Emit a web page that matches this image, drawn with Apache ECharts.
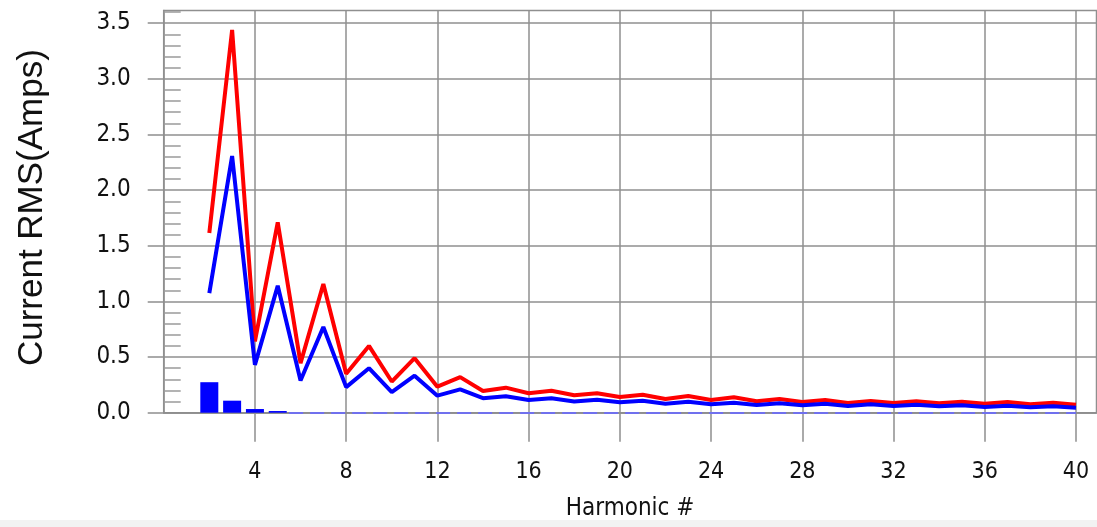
<!DOCTYPE html>
<html>
<head>
<meta charset="utf-8">
<style>
  html, body { margin: 0; padding: 0; background: #fff; }
  #chart { width: 1097px; height: 527px; }
</style>
<script src="https://cdn.jsdelivr.net/npm/echarts@6/dist/echarts.min.js"></script>
</head>
<body>
<div id="chart"></div>
<script>
// Harmonic orders 2..40
const harmonics = [];
for (let h = 2; h <= 40; h++) harmonics.push(h);

// RMS current per harmonic (A)
const redValues = [1.615, 3.44, 0.64, 1.71, 0.445, 1.157, 0.35, 0.60, 0.28, 0.49,
  0.234, 0.32, 0.195, 0.225, 0.175, 0.198, 0.157, 0.175, 0.141, 0.162,
  0.123, 0.15, 0.114, 0.139, 0.103, 0.123, 0.096, 0.114, 0.087, 0.106,
  0.087, 0.103, 0.084, 0.099, 0.081, 0.096, 0.075, 0.09, 0.072];
const blueValues = [1.075, 2.306, 0.43, 1.14, 0.29, 0.77, 0.23, 0.40, 0.184, 0.333,
  0.153, 0.21, 0.13, 0.148, 0.114, 0.13, 0.10, 0.117, 0.094, 0.108,
  0.081, 0.099, 0.076, 0.09, 0.069, 0.084, 0.066, 0.081, 0.06, 0.075,
  0.06, 0.072, 0.057, 0.066, 0.051, 0.063, 0.048, 0.057, 0.045];
const barValues = [0.274, 0.108, 0.033, 0.015, 0, 0, 0, 0, 0, 0,
  0, 0, 0, 0, 0, 0, 0, 0, 0, 0,
  0, 0, 0, 0, 0, 0, 0, 0, 0, 0,
  0, 0, 0, 0, 0, 0, 0, 0, 0];

// Axis tick labels
const xTicks = [4, 8, 12, 16, 20, 24, 28, 32, 36, 40];
const yTicks = [0, 0.5, 1.0, 1.5, 2.0, 2.5, 3.0, 3.5];

const pairs = vals => harmonics.map((h, i) => [h, vals[i]]);

const gridGray = '#8f8f8f';
const tickFont = '"Liberation Sans Narrow", "DejaVu Sans Condensed", "Liberation Sans", sans-serif';

const chart = echarts.init(document.getElementById('chart'), null, { renderer: 'canvas' });

chart.setOption({
  backgroundColor: '#ffffff',
  animation: false,
  grid: {
    left: 163.7, top: 10.5, right: 0.5, bottom: 114.3,
    show: true, borderColor: gridGray, borderWidth: 1.5, backgroundColor: 'transparent'
  },
  xAxis: {
    type: 'value',
    min: 0, max: 40.9, interval: 4,
    name: 'Harmonic #',
    nameLocation: 'middle',
    nameGap: 84,
    nameTextStyle: { fontFamily: tickFont, fontSize: 24, color: '#111', verticalAlign: 'top' },
    axisLine: { show: true, lineStyle: { color: gridGray, width: 1.5 } },
    axisTick: { show: true, customValues: xTicks, length: 29, lineStyle: { color: gridGray, width: 1.5 } },
    axisLabel: {
      customValues: xTicks, margin: 48,
      fontFamily: tickFont, fontSize: 23, color: '#111'
    },
    splitLine: { show: true, lineStyle: { color: gridGray, width: 1.5 } }
  },
  yAxis: {
    type: 'value',
    min: 0, max: 3.614, interval: 0.5,
    name: 'Current RMS(Amps)',
    nameLocation: 'middle',
    nameGap: 114,
    nameRotate: 90,
    nameTextStyle: {
      fontFamily: '"Liberation Sans", Arial, sans-serif', fontSize: 35, color: '#111',
      padding: [0, 0, 0, 8]
    },
    axisLine: { show: true, lineStyle: { color: gridGray, width: 1.5 } },
    axisTick: { show: true, length: 16, customValues: yTicks, lineStyle: { color: gridGray, width: 1.5 } },
    minorTick: { show: true, splitNumber: 5, length: -17, lineStyle: { color: '#9a9a9a', width: 1.5 } },
    axisLabel: {
      customValues: yTicks, margin: 33,
      formatter: v => v.toFixed(1),
      fontFamily: tickFont, fontSize: 24, color: '#111'
    },
    splitLine: { show: true, lineStyle: { color: gridGray, width: 1.5 } }
  },
  graphic: [{
    type: 'rect', z: -1,
    shape: { x: 0, y: 520, width: 1097, height: 7 },
    style: { fill: '#f2f2f2' }
  }],
  series: [
    {
      name: 'Level',
      type: 'bar',
      data: pairs(barValues),
      barWidth: 18,
      itemStyle: { color: '#0000ff' },
      z: 3,
      markLine: {
        silent: true,
        symbol: 'none',
        label: { show: false },
        lineStyle: { color: '#7070ee', width: 2, type: [14, 7] },
        data: [[{ coord: [5.5, 0] }, { coord: [harmonics[harmonics.length - 1], 0] }]]
      }
    },
    {
      name: 'Max',
      type: 'line',
      data: pairs(redValues),
      symbol: 'none',
      lineStyle: { color: '#ff0000', width: 4 },
      z: 4
    },
    {
      name: 'Avg',
      type: 'line',
      data: pairs(blueValues),
      symbol: 'none',
      lineStyle: { color: '#0000ff', width: 4 },
      z: 5
    }
  ]
});
</script>
</body>
</html>
